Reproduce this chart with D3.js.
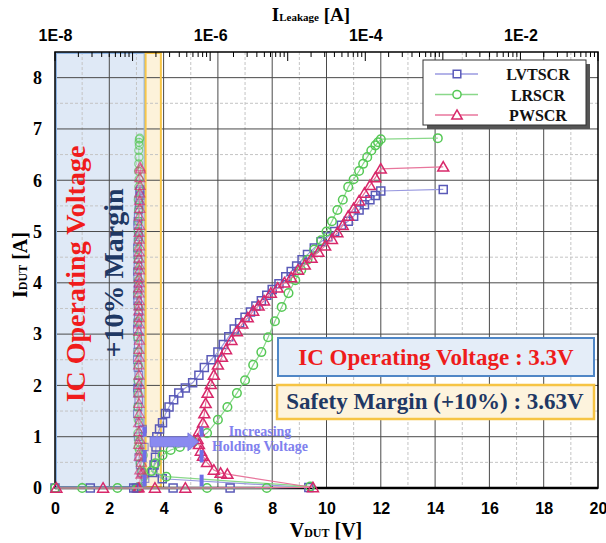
<!DOCTYPE html>
<html>
<head>
<meta charset="utf-8">
<script src="https://cdn.jsdelivr.net/npm/d3@7"></script>
<style>
  body { margin: 0; background: #fff; }
  svg { display: block; }
</style>
</head>
<body>
<svg id="chart" width="606" height="543"></svg>
<script>
// ---- TLP I-V data (V_DUT [V], I_DUT [A]) and leakage after each pulse [A] ----
const lvtscrV = [0, 1.3, 2.9, 4.35, 6.45, 9.35, 3.95, 3.6, 3.65, 3.7, 3.72, 3.75, 3.85, 3.96, 4.07, 4.2,
  4.37, 4.56, 4.8, 5.07, 5.3, 5.5, 5.75, 6.0, 6.2, 6.4, 6.6, 6.8, 7.0, 7.2, 7.4, 7.6, 7.8, 8.0, 8.25, 8.5,
  8.7, 8.9, 9.1, 9.3, 9.55, 9.8, 10.05, 10.3, 10.55, 10.8, 11.0, 11.2, 11.4, 11.6, 11.8, 12.0, 14.3];
const lvtscrI = [0, 0, 0, 0, 0, 0.01, 0.18, 0.3, 0.45, 0.6, 0.8, 1.0, 1.15, 1.27, 1.45, 1.58,
  1.72, 1.85, 1.95, 2.05, 2.2, 2.35, 2.5, 2.65, 2.8, 2.95, 3.1, 3.22, 3.33, 3.43, 3.55, 3.65, 3.76, 3.87, 3.98, 4.12,
  4.22, 4.33, 4.45, 4.55, 4.68, 4.8, 4.9, 5.0, 5.12, 5.2, 5.3, 5.42, 5.52, 5.62, 5.7, 5.79, 5.82];
const lvtscrLeak = [1.10e-7, 1.12e-7, 1.15e-7, 1.10e-7, 1.13e-7, 1.20e-7, 1.45e-7, 1.30e-7, 1.25e-7, 1.20e-7, 1.42e-7, 1.18e-7, 1.35e-7, 1.22e-7, 1.15e-7, 1.18e-7,
  1.20e-7, 1.16e-7, 1.15e-7, 1.18e-7, 1.20e-7, 1.17e-7, 1.15e-7, 1.16e-7, 1.18e-7, 1.17e-7, 1.15e-7, 1.16e-7, 1.18e-7, 1.20e-7, 1.17e-7, 1.16e-7, 1.15e-7, 1.17e-7, 1.18e-7, 1.16e-7,
  1.15e-7, 1.17e-7, 1.18e-7, 1.16e-7, 1.15e-7, 1.17e-7, 1.20e-7, 1.18e-7, 1.16e-7, 1.17e-7, 1.18e-7, 1.20e-7, 1.22e-7, 1.20e-7, 1.25e-7, 1.22e-7, 1.25e-7];

const lrscrV = [0, 1.0, 2.3, 5.6, 7.8, 9.4, 4.1, 3.55, 3.7, 3.96, 4.26, 4.6, 5.1, 5.6, 6.0, 6.35,
  6.7, 7.0, 7.3, 7.6, 7.85, 8.1, 8.35, 8.6, 8.85, 9.07, 9.3, 9.55, 9.8, 10.0, 10.2, 10.4, 10.6, 10.8, 11.0, 11.2,
  11.35, 11.5, 11.65, 11.8, 11.9, 12.0, 14.1];
const lrscrI = [0, 0, 0, 0, 0, 0.03, 0.22, 0.33, 0.48, 0.64, 0.74, 0.8, 0.9, 1.07, 1.33, 1.58,
  1.85, 2.1, 2.4, 2.65, 2.94, 3.25, 3.53, 3.8, 4.05, 4.25, 4.45, 4.65, 4.83, 5.0, 5.2, 5.42, 5.62, 5.87, 6.02, 6.18,
  6.32, 6.45, 6.58, 6.68, 6.74, 6.8, 6.82];
const lrscrLeak = [1.15e-7, 1.18e-7, 1.12e-7, 1.16e-7, 1.14e-7, 1.20e-7, 1.40e-7, 1.32e-7, 1.25e-7, 1.38e-7, 1.22e-7, 1.18e-7, 1.20e-7, 1.17e-7, 1.18e-7, 1.16e-7,
  1.18e-7, 1.17e-7, 1.19e-7, 1.18e-7, 1.16e-7, 1.18e-7, 1.19e-7, 1.17e-7, 1.18e-7, 1.20e-7, 1.18e-7, 1.17e-7, 1.19e-7, 1.18e-7, 1.20e-7, 1.19e-7, 1.18e-7, 1.20e-7, 1.21e-7, 1.19e-7,
  1.20e-7, 1.21e-7, 1.20e-7, 1.22e-7, 1.21e-7, 1.22e-7, 1.24e-7];

const pwscrV = [0.05, 1.77, 3.68, 4.8, 9.5, 6.35, 6.1, 5.85, 5.6, 5.45, 5.37, 5.3, 5.25, 5.3, 5.45,
  5.5, 5.55, 5.62, 5.74, 5.85, 6.0, 6.15, 6.3, 6.5, 6.7, 6.9, 7.1, 7.3, 7.5, 7.7, 7.95, 8.2, 8.45, 8.7, 8.95,
  9.2, 9.45, 9.7, 9.95, 10.2, 10.4, 10.6, 10.8, 11.0, 11.2, 11.4, 11.6, 11.8, 12.0, 14.3];
const pwscrI = [0, 0, 0, 0, 0.01, 0.27, 0.29, 0.35, 0.5, 0.62, 0.72, 0.85, 0.95, 1.1, 1.27,
  1.45, 1.65, 1.85, 2.02, 2.2, 2.4, 2.55, 2.7, 2.88, 3.05, 3.2, 3.32, 3.45, 3.55, 3.65, 3.8, 3.9, 4.0, 4.1, 4.25,
  4.35, 4.48, 4.6, 4.72, 4.85, 4.98, 5.12, 5.3, 5.45, 5.6, 5.75, 5.9, 6.05, 6.22, 6.26];
const pwscrLeak = [1.18e-7, 1.20e-7, 1.16e-7, 1.22e-7, 1.20e-7, 1.28e-7, 1.35e-7, 1.24e-7, 1.30e-7, 1.22e-7, 1.26e-7, 1.20e-7, 1.24e-7, 1.21e-7, 1.20e-7,
  1.22e-7, 1.21e-7, 1.20e-7, 1.22e-7, 1.21e-7, 1.20e-7, 1.22e-7, 1.21e-7, 1.23e-7, 1.20e-7, 1.21e-7, 1.22e-7, 1.20e-7, 1.21e-7, 1.22e-7, 1.21e-7, 1.20e-7, 1.22e-7, 1.21e-7, 1.23e-7,
  1.22e-7, 1.21e-7, 1.22e-7, 1.23e-7, 1.22e-7, 1.21e-7, 1.23e-7, 1.22e-7, 1.24e-7, 1.23e-7, 1.24e-7, 1.25e-7, 1.24e-7, 1.26e-7, 1.25e-7];

const seriesNames = ["LVTSCR", "LRSCR", "PWSCR"];

// ---- axes ----
const vTicks = [0, 2, 4, 6, 8, 10, 12, 14, 16, 18, 20];
const iTicks = [0, 1, 2, 3, 4, 5, 6, 7, 8];
const leakTicks = [1e-8, 1e-6, 1e-4, 1e-2];
const leakTickLabels = ["1E-8", "1E-6", "1E-4", "1E-2"];

// ---- voltage windows and holding-voltage marks ----
const icOperatingV = 3.3;
const marginWindowEnd = 3.9;
const holdV = [3.3, 5.4];
const holdBarLo = [1.0, 0.5, 0.03];
const holdBarHi = [1.2, 0.74, 0.26];
const arrowFromV = 3.5, arrowToV = 5.3, arrowI = 0.9;

const svg = d3.select("#chart");
const L = 55, R = 598, T = 52, B = 488;
const x = d3.scaleLinear().domain([0, 20]).range([L, R]);
const y = d3.scaleLinear().domain([0, 8.5]).range([B, T]);
const xTop = d3.scaleLog().domain([1e-8, 1e-1]).range([L, R]);

const serif = "'Liberation Serif', 'Times New Roman', serif";
const sans = "'Liberation Sans', Arial, sans-serif";

svg.append("rect").attr("width", 606).attr("height", 543).attr("fill", "#fff");

// shaded voltage windows (fill first, borders later)
svg.append("rect").attr("x", x(0)).attr("y", T).attr("width", x(icOperatingV) - x(0)).attr("height", B - T)
  .attr("fill", "#dfe9f6");
svg.append("rect").attr("x", x(icOperatingV)).attr("y", T).attr("width", x(marginWindowEnd) - x(icOperatingV)).attr("height", B - T)
  .attr("fill", "#fdf2da");

// grid
const g = svg.append("g");
d3.range(1, 20, 2).forEach(v => g.append("line").attr("x1", x(v)).attr("x2", x(v)).attr("y1", T).attr("y2", B)
  .attr("stroke", "#c4c4c4").attr("stroke-dasharray", "3,2"));
d3.range(0.5, 8.5, 1).forEach(i => g.append("line").attr("x1", L).attr("x2", R).attr("y1", y(i)).attr("y2", y(i))
  .attr("stroke", "#c4c4c4").attr("stroke-dasharray", "3,2"));
vTicks.slice(1, -1).forEach(v => g.append("line").attr("x1", x(v)).attr("x2", x(v)).attr("y1", T).attr("y2", B)
  .attr("stroke", "#4a4a4a").attr("stroke-width", 1));
iTicks.slice(1).forEach(i => g.append("line").attr("x1", L).attr("x2", R).attr("y1", y(i)).attr("y2", y(i))
  .attr("stroke", "#4a4a4a").attr("stroke-width", 1));

// window borders
svg.append("rect").attr("x", x(0) + 1).attr("y", T + 1).attr("width", x(icOperatingV) - x(0) - 1).attr("height", B - T - 2)
  .attr("fill", "none").attr("stroke", "#8fb5e3").attr("stroke-width", 2);
svg.append("rect").attr("x", x(icOperatingV) + 1).attr("y", T + 1).attr("width", x(marginWindowEnd) - x(icOperatingV) - 1).attr("height", B - T - 2)
  .attr("fill", "none").attr("stroke", "#f7c64a").attr("stroke-width", 2);

// vertical labels in the windows
svg.append("text").attr("transform", `translate(85,274) rotate(-90)`).attr("text-anchor", "middle")
  .attr("font-family", serif).attr("font-weight", "bold").attr("font-size", 28).attr("fill", "#f01c1c")
  .text("IC Operating Voltage");
svg.append("text").attr("transform", `translate(123,273) rotate(-90)`).attr("text-anchor", "middle")
  .attr("font-family", serif).attr("font-weight", "bold").attr("font-size", 28).attr("fill", "#1f3864")
  .text("+10% Margin");

// top log axis: inward ticks
const topTicks = xTop.ticks();
topTicks.forEach(t => {
  const major = Math.abs(Math.log10(t) - Math.round(Math.log10(t))) < 1e-9;
  svg.append("line").attr("x1", xTop(t)).attr("x2", xTop(t)).attr("y1", T).attr("y2", T + (major ? 9 : 5))
    .attr("stroke", "#000").attr("stroke-width", 1);
});
const topAxis = svg.append("g").attr("transform", `translate(0,${T - 8})`)
  .call(d3.axisTop(xTop).tickValues(leakTicks).tickSize(0).tickFormat((d, i) => leakTickLabels[i]));
topAxis.select(".domain").remove();
topAxis.selectAll("text").attr("font-family", sans).attr("font-weight", "bold").attr("font-size", 16).attr("fill", "#000");

// bottom axis labels
const botAxis = svg.append("g").attr("transform", `translate(0,${B + 12})`)
  .call(d3.axisBottom(x).tickValues(vTicks).tickSize(0).tickFormat(d3.format("d")));
botAxis.select(".domain").remove();
botAxis.selectAll("text").attr("font-family", sans).attr("font-weight", "bold").attr("font-size", 16).attr("fill", "#000");

// left axis labels
const leftAxis = svg.append("g").attr("transform", `translate(${L - 10},0)`)
  .call(d3.axisLeft(y).tickValues(iTicks).tickSize(0).tickFormat(d3.format("d")));
leftAxis.select(".domain").remove();
leftAxis.selectAll("text").attr("font-family", serif).attr("font-weight", "bold").attr("font-size", 18).attr("fill", "#000");

// frame
svg.append("rect").attr("x", L).attr("y", T).attr("width", R - L).attr("height", B - T)
  .attr("fill", "none").attr("stroke", "#000").attr("stroke-width", 1.5);
svg.append("line").attr("x1", L).attr("x2", R).attr("y1", B).attr("y2", B).attr("stroke", "#000").attr("stroke-width", 2.5);

// axis titles
function subTitle(tx, ty, rot, main, sub, tail, size, subSize) {
  const t = svg.append("text").attr("transform", `translate(${tx},${ty}) rotate(${rot})`)
    .attr("text-anchor", "middle").attr("font-family", serif).attr("font-weight", "bold")
    .attr("font-size", size).attr("fill", "#000");
  t.append("tspan").text(main);
  t.append("tspan").attr("font-size", subSize).text(sub);
  t.append("tspan").text(tail);
}
subTitle(311, 21, 0, "I", "Leakage", " [A]", 19, 11);
subTitle(326, 537, 0, "V", "DUT", " [V]", 20, 12);
subTitle(27, 265, -90, "I", "DUT", " [A]", 20, 12);

// ---- data ----
const colors = {
  LVTSCR: { mark: "#5a5ab8", line: "#9a9ae0" },
  LRSCR: { mark: "#55c855", line: "#8ad88a" },
  PWSCR: { mark: "#d8286a", line: "#e8769c" }
};
const symbols = { LVTSCR: d3.symbolSquare, LRSCR: d3.symbolCircle, PWSCR: d3.symbolTriangle };
const symSize = { LVTSCR: 64, LRSCR: 58, PWSCR: 52 };

const tlp = {
  LVTSCR: lvtscrV.map((v, k) => ({ v, i: lvtscrI[k], leak: lvtscrLeak[k] })),
  LRSCR: lrscrV.map((v, k) => ({ v, i: lrscrI[k], leak: lrscrLeak[k] })),
  PWSCR: pwscrV.map((v, k) => ({ v, i: pwscrI[k], leak: pwscrLeak[k] }))
};

const dataG = svg.append("g");
// leakage columns (top log axis)
seriesNames.forEach(name => {
  const c = colors[name];
  const pts = tlp[name];
  dataG.append("path").datum(pts)
    .attr("d", d3.line().x(d => xTop(d.leak)).y(d => y(d.i)))
    .attr("fill", "none").attr("stroke", c.line).attr("stroke-width", 1).attr("opacity", 0.8);
  dataG.selectAll(null).data(pts).enter().append("path")
    .attr("transform", d => `translate(${xTop(d.leak)},${y(d.i)})${name === "PWSCR" ? " translate(0,1)" : ""}`)
    .attr("d", d3.symbol().type(symbols[name]).size(symSize[name] * 0.85))
    .attr("fill", "none").attr("stroke", c.mark).attr("stroke-width", 1.2).attr("opacity", 0.65);
});
// TLP I-V curves (bottom linear axis)
seriesNames.forEach(name => {
  const c = colors[name];
  const pts = tlp[name];
  dataG.append("path").datum(pts)
    .attr("d", d3.line().x(d => x(d.v)).y(d => y(d.i)))
    .attr("fill", "none").attr("stroke", c.line).attr("stroke-width", 1.2);
  dataG.selectAll(null).data(pts).enter().append("path")
    .attr("transform", d => `translate(${x(d.v)},${y(d.i)})${name === "PWSCR" ? " translate(0,1)" : ""}`)
    .attr("d", d3.symbol().type(symbols[name]).size(symSize[name]))
    .attr("fill", "none").attr("stroke", c.mark).attr("stroke-width", 1.5);
});

// holding-voltage marks and arrow
holdV.forEach(v => holdBarLo.forEach((lo, k) => {
  svg.append("rect").attr("x", x(v) - 2).attr("y", y(holdBarHi[k])).attr("width", 4)
    .attr("height", y(lo) - y(holdBarHi[k])).attr("fill", "#6e6ee8");
}));
const ay = y(arrowI), ax0 = x(arrowFromV), ax1 = x(arrowToV), headLen = 11;
svg.append("path")
  .attr("d", `M${ax0},${ay - 5}L${ax1 - headLen},${ay - 5}L${ax1 - headLen},${ay - 9}L${ax1},${ay}L${ax1 - headLen},${ay + 9}L${ax1 - headLen},${ay + 5}L${ax0},${ay + 5}Z`)
  .attr("fill", "#8a8af0").attr("stroke", "#7272dc").attr("stroke-width", 0.8);
svg.append("text").attr("x", 260).attr("y", 436).attr("text-anchor", "middle")
  .attr("font-family", serif).attr("font-weight", "bold").attr("font-size", 14).attr("fill", "#8080ee")
  .text("Increasing");
svg.append("text").attr("x", 260).attr("y", 451).attr("text-anchor", "middle")
  .attr("font-family", serif).attr("font-weight", "bold").attr("font-size", 14).attr("fill", "#8080ee")
  .text("Holding Voltage");

// annotation boxes
svg.append("rect").attr("x", 278).attr("y", 338).attr("width", 316).attr("height", 38)
  .attr("fill", "#e4edf8").attr("stroke", "#4f86c6").attr("stroke-width", 2);
svg.append("text").attr("x", 436).attr("y", 365).attr("text-anchor", "middle")
  .attr("font-family", serif).attr("font-weight", "bold").attr("font-size", 23).attr("fill", "#ee1c1c")
  .text("IC Operating Voltage : " + icOperatingV + "V");
svg.append("rect").attr("x", 277).attr("y", 385).attr("width", 317).attr("height", 34)
  .attr("fill", "#fdf3dd").attr("stroke", "#f6c444").attr("stroke-width", 2.5);
svg.append("text").attr("x", 435).attr("y", 409).attr("text-anchor", "middle")
  .attr("font-family", serif).attr("font-weight", "bold").attr("font-size", 23).attr("fill", "#1f3864")
  .text("Safety Margin (+10%) : " + (icOperatingV * 1.1).toFixed(2) + "V");

// legend
const lg = svg.append("g");
lg.append("rect").attr("x", 427).attr("y", 64).attr("width", 163).attr("height", 65).attr("fill", "#555");
lg.append("rect").attr("x", 423).attr("y", 60).attr("width", 163).attr("height", 65)
  .attr("fill", "#fff").attr("stroke", "#333").attr("stroke-width", 1);
seriesNames.forEach((name, k) => {
  const ly = 74 + k * 20.5;
  lg.append("line").attr("x1", 435).attr("x2", 478).attr("y1", ly).attr("y2", ly)
    .attr("stroke", colors[name].line).attr("stroke-width", 1.3);
  lg.append("path").attr("transform", `translate(457,${ly + (name === "PWSCR" ? 1 : 0)})`)
    .attr("d", d3.symbol().type(symbols[name]).size(symSize[name] * 0.9))
    .attr("fill", "#fff").attr("stroke", colors[name].mark).attr("stroke-width", 1.5);
  lg.append("text").attr("x", 538).attr("y", ly + 6).attr("text-anchor", "middle")
    .attr("font-family", serif).attr("font-weight", "bold").attr("font-size", 16).attr("fill", "#111")
    .text(name);
});
</script>
</body>
</html>
